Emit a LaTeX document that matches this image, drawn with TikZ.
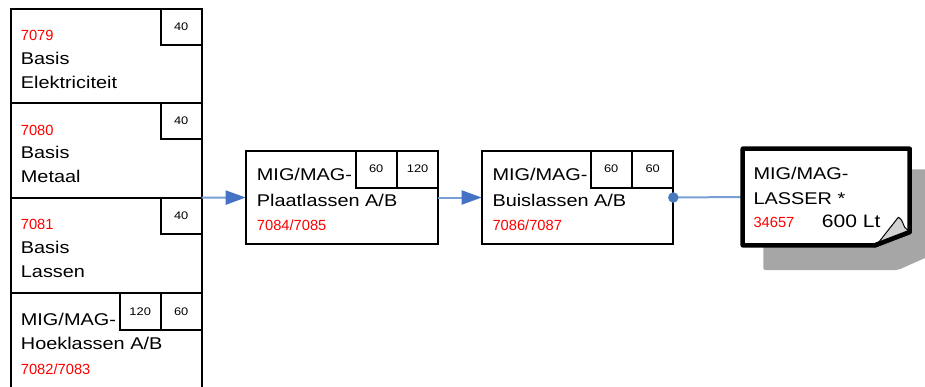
\documentclass[tikz,border=0pt]{standalone}
\usepackage{fontspec}
\setmainfont{Liberation Sans}
\newfontfamily\blkfont[FakeStretch=1.17]{Liberation Sans}
\usetikzlibrary{arrows.meta,calc}
\definecolor{lineblue}{RGB}{120,158,212}
\definecolor{tipblue}{RGB}{68,114,196}
\definecolor{dotblue}{RGB}{72,122,192}
\definecolor{shadowgray}{RGB}{166,166,166}
\definecolor{flapgray}{RGB}{210,210,210}
\definecolor{codered}{RGB}{255,0,0}
\begin{document}
\begin{tikzpicture}[x=1pt,y=-1pt,
  box/.style={draw=black,line width=1.8pt,fill=white,anchor=north west,inner sep=0pt,outer sep=0pt},
  numbox/.style={box,font=\blkfont\fontsize{11}{13}\selectfont,minimum width=41pt,minimum height=37pt},
  maintxt/.style={anchor=base west,inner sep=0pt,font=\blkfont\fontsize{17}{20}\selectfont},
  bigtxt/.style={anchor=base west,inner sep=0pt,font=\blkfont\fontsize{18}{21}\selectfont},
  redtxt/.style={anchor=base west,inner sep=0pt,text=codered,font=\fontsize{14.7}{17}\selectfont},
  conn/.style={draw=lineblue,line width=2pt},
  arr/.style={conn,-{Triangle[length=20pt,width=14pt,color=tipblue]}},
  enddot/.style={circle,fill=dotblue,inner sep=0pt,minimum size=10.5pt}
]
\useasboundingbox (0,0) rectangle (925,386);
\clip (0,0) rectangle (925,386);

% left column
\node[box,minimum width=191pt,minimum height=93.7pt] (b1) at (10.7,9) {};
\node[box,minimum width=191pt,minimum height=95pt] (b2) at (10.7,102.7) {};
\node[box,minimum width=191pt,minimum height=95.3pt] (b3) at (10.7,197.7) {};
\node[box,minimum width=191pt,minimum height=110pt] (b4) at (10.7,293) {};
\node[numbox,minimum height=36pt] (s1) at (160.7,9) {40};
\node[numbox,minimum height=36pt] (s2) at (160.7,102.7) {40};
\node[numbox,minimum height=36pt] (s3) at (160.7,197.7) {40};
\node[numbox] (s4a) at (119.7,293) {120};
\node[numbox] (s4b) at (160.7,293) {60};

\node[redtxt] (t1a) at (20.7,40) {7079};
\node[maintxt] (t1b) at (20.7,64) {Basis};
\node[maintxt] (t1c) at (20.7,88.3) {Elektriciteit};
\node[redtxt] (t2a) at (20.7,135) {7080};
\node[maintxt] (t2b) at (20.7,158.5) {Basis};
\node[maintxt] (t2c) at (20.7,182.7) {Metaal};
\node[redtxt] (t3a) at (20.7,229.3) {7081};
\node[maintxt] (t3b) at (20.7,253.3) {Basis};
\node[maintxt] (t3c) at (20.7,277.3) {Lassen};
\node[maintxt] (t4a) at (20.7,325) {MIG/MAG-};
\node[maintxt] (t4b) at (20.7,349.3) {Hoeklassen A/B};
\node[redtxt] (t4c) at (20.7,374) {7082/7083};

% Plaatlassen
\node[box,minimum width=192.6pt,minimum height=93.6pt] (plaat) at (245.7,150.7) {};
\node[numbox] (sp1) at (355.7,150.7) {60};
\node[numbox,minimum width=41.3pt] (sp2) at (397,150.7) {120};
\node[maintxt] (tpa) at (256.7,180) {MIG/MAG-};
\node[maintxt] (tpb) at (256.7,206) {Plaatlassen A/B};
\node[redtxt] (tpc) at (256.7,230.7) {7084/7085};

% Buislassen
\node[box,minimum width=191.6pt,minimum height=93.6pt] (buis) at (481.7,150.7) {};
\node[numbox] (sb1) at (590.7,150.7) {60};
\node[numbox,minimum width=41.3pt] (sb2) at (632,150.7) {60};
\node[maintxt] (tba) at (492.3,180) {MIG/MAG-};
\node[maintxt] (tbb) at (492.3,206) {Buislassen A/B};
\node[redtxt] (tbc) at (492.3,230.7) {7086/7087};

% Lasser (document shape)
\node[anchor=north west,inner sep=0pt,outer sep=0pt,minimum width=167pt,minimum height=96.6pt] (lasser) at (742.7,148.7) {};

% connectors
\draw[arr] (b3.north east) -- (plaat.west);
\draw[arr] (plaat.east) -- (buis.west);
\draw[conn] (buis.east) -- (lasser.west);
\node[enddot] (dot) at (buis.east) {};

% shadow
\fill[shadowgray,rounded corners=2pt] ($(lasser.north west)+(20.6,20.6)$) -- ($(lasser.north east)+(40,20.6)$) -- ($(lasser.south east)+(40,4)$) -- (925,258) -- ($(lasser.south east)+(-11.7,24.7)$) -- ($(lasser.south west)+(20.6,24.7)$) -- cycle;

% document body
\draw[line width=4.5pt,fill=white,line join=round] (lasser.north west) -- (lasser.north east) -- ($(lasser.south east)+(0,-13.3)$) -- ($(lasser.south east)+(-34.7,0)$) -- (lasser.south west) -- cycle;
% curled corner flap
\draw[line width=1pt,fill=flapgray,line join=round] ($(lasser.south east)+(-33,-0.5)$) -- ($(lasser.south east)+(-11.4,-28)$) .. controls ($(lasser.south east)+(-8,-27)$) and ($(lasser.south east)+(-7,-22)$) .. ($(lasser.south east)+(-5,-18)$) -- ($(lasser.south east)+(0,-13.3)$) -- cycle;
\draw[line width=4.5pt,line cap=round] ($(lasser.south east)+(0,-13.3)$) -- ($(lasser.south east)+(-34.7,0)$);

\node[maintxt] (tla) at (753.3,179.3) {MIG/MAG-};
\node[maintxt] (tlb) at (753.3,204) {LASSER *};
\node[redtxt] (tlc) at (753.3,227.7) {34657};
\node[bigtxt] (tld) at (821.7,227.7) {600 Lt};
\end{tikzpicture}
\end{document}
